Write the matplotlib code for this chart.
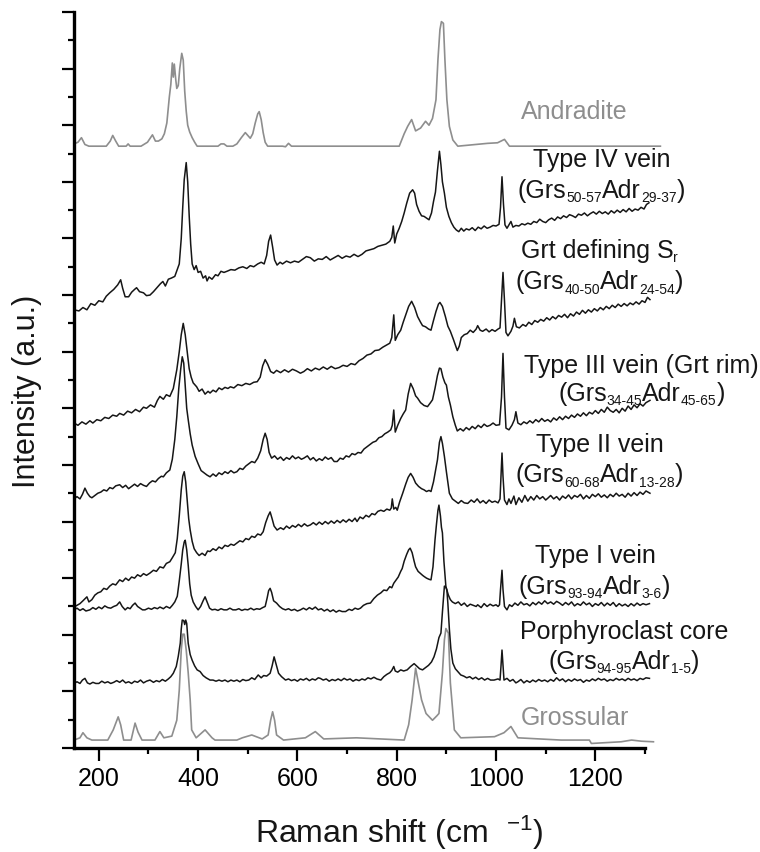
import numpy as np
import matplotlib
matplotlib.use('Agg')
import matplotlib.pyplot as plt
import matplotlib.transforms as mtransforms
from matplotlib.ticker import MultipleLocator

plt.rcParams['font.family'] = ['Liberation Sans', 'DejaVu Sans']
plt.rcParams['mathtext.fontset'] = 'custom'
plt.rcParams['mathtext.rm'] = 'Liberation Sans'
plt.rcParams['mathtext.default'] = 'regular'

# ---- spectra (x: Raman shift in cm-1, y: stacked intensity, a.u.) ----
andr_x = [150, 158, 165, 172, 180, 215, 223, 228, 234, 240, 255, 259, 263, 285, 298, 308, 314, 320, 327, 332,
          337, 342, 345, 348, 350, 352, 355, 357, 360, 363, 367, 370, 373, 376, 379, 383, 388, 393, 398,
          440, 446, 452, 458, 470, 478, 487, 495, 500, 505, 510, 515, 520, 523, 527, 531, 535, 540, 570, 576,
          582, 588, 805, 815, 822, 830, 838, 848, 858, 865, 872, 879, 883, 887, 890, 894, 897, 901, 906, 913,
          923, 983, 1003, 1017, 1027, 1331]
andr_y = [10.67, 10.70, 10.78, 10.66, 10.63, 10.63, 10.72, 10.82, 10.72, 10.63, 10.63, 10.67, 10.63, 10.63,
          10.70, 10.83, 10.72, 10.72, 10.76, 10.85, 11.04, 11.50, 11.72, 12.10, 11.85, 12.08, 11.80, 11.65,
          11.70, 12.00, 12.27, 12.15, 11.60, 11.25, 11.00, 10.88, 10.78, 10.70, 10.63,
          10.63, 10.67, 10.67, 10.63, 10.63, 10.67, 10.78, 10.87, 10.82, 10.77, 10.85, 11.04, 11.20, 11.24,
          11.10, 10.87, 10.70, 10.63, 10.63, 10.62, 10.68, 10.63, 10.63, 10.85, 10.98, 11.10, 10.90, 10.95,
          11.07, 11.00, 11.12, 11.45, 12.16, 12.69, 12.83, 12.80, 12.16, 11.45, 10.98, 10.74,
          10.63, 10.68, 10.69, 10.75, 10.63, 10.63]

t4_x = [150, 160, 168, 176, 184, 192, 200, 208, 215, 222, 230, 238, 244, 248, 253, 260, 266, 272, 276, 282,
        290, 296, 303, 310, 318, 324, 329, 334, 340, 346, 353, 358, 362, 366, 369, 372, 376, 379, 382, 385,
        388, 392, 396, 400, 405, 410, 415, 418, 422, 428, 435, 440, 446, 452, 458, 466, 474, 482, 490, 498,
        505, 512, 520, 527, 533, 538, 542, 546, 550, 554, 559, 565, 570, 578, 586, 594, 602, 610, 618, 626,
        634, 642, 650, 658, 666, 674, 682, 690, 698, 706, 714, 722, 730, 738, 746, 754, 762, 770, 778, 786,
        790, 793, 796, 800, 805, 810, 815, 820, 826, 832, 836, 840, 845, 850, 855, 860, 865, 870, 874, 878,
        882, 886, 889, 892, 896, 900, 905, 910, 915, 920, 925, 930, 935, 940, 946, 952, 958, 964, 970, 976,
        982, 988, 994, 1000, 1006, 1009, 1012, 1015, 1018, 1022, 1026, 1030, 1034, 1040, 1046, 1052, 1058,
        1064, 1070, 1076, 1082, 1088, 1094, 1100, 1106, 1112, 1118, 1124, 1130, 1136, 1142, 1148, 1154,
        1160, 1166, 1172, 1178, 1184, 1190, 1196, 1202, 1208, 1214, 1220, 1226, 1232, 1238, 1244, 1250,
        1256, 1262, 1268, 1274, 1280, 1286, 1292, 1298, 1303, 1308]
t4_y = [7.74, 7.72, 7.78, 7.74, 7.85, 7.82, 7.90, 7.88, 7.98, 8.04, 8.10, 8.18, 8.27, 8.12, 7.97, 7.97, 8.05,
        8.10, 8.13, 8.06, 8.04, 7.99, 8.00, 8.06, 8.14, 8.20, 8.24, 8.16, 8.28, 8.30, 8.33, 8.45, 8.55, 9.00,
        9.55, 10.04, 10.34, 10.00, 9.40, 8.90, 8.55, 8.45, 8.52, 8.40, 8.42, 8.30, 8.34, 8.25, 8.32, 8.28,
        8.36, 8.34, 8.42, 8.40, 8.42, 8.45, 8.44, 8.48, 8.50, 8.47, 8.52, 8.50, 8.55, 8.58, 8.55, 8.70, 8.95,
        9.06, 8.85, 8.62, 8.53, 8.58, 8.55, 8.60, 8.57, 8.60, 8.58, 8.63, 8.68, 8.66, 8.60, 8.64, 8.63, 8.68,
        8.62, 8.66, 8.70, 8.65, 8.69, 8.67, 8.72, 8.68, 8.72, 8.78, 8.80, 8.82, 8.86, 8.88, 8.90, 8.95,
        9.02, 9.22, 8.92, 9.08, 9.18, 9.30, 9.45, 9.62, 9.80, 9.86, 9.80, 9.60, 9.48, 9.40, 9.39, 9.36, 9.33,
        9.45, 9.65, 9.82, 10.20, 10.54, 10.30, 10.00, 9.80, 9.55, 9.39, 9.28, 9.20, 9.15, 9.12, 9.18, 9.13,
        9.17, 9.15, 9.19, 9.14, 9.20, 9.17, 9.22, 9.18, 9.20, 9.23, 9.22, 9.25, 9.55, 10.09, 9.60, 9.24,
        9.18, 9.24, 9.30, 9.20, 9.23, 9.22, 9.26, 9.24, 9.27, 9.25, 9.30, 9.28, 9.34, 9.30, 9.28, 9.33, 9.36,
        9.32, 9.38, 9.35, 9.40, 9.37, 9.42, 9.40, 9.37, 9.43, 9.41, 9.45, 9.40, 9.44, 9.47, 9.43, 9.48, 9.44,
        9.47, 9.43, 9.49, 9.45, 9.50, 9.46, 9.51, 9.47, 9.53, 9.48, 9.52, 9.50, 9.55, 9.52, 9.60, 9.63]

sr_x = [150, 158, 166, 174, 182, 188, 196, 204, 212, 220, 228, 236, 242, 250, 258, 266, 274, 282, 290, 296,
        304, 312, 318, 323, 330, 336, 343, 350, 357, 362, 366, 370, 374, 378, 382, 386, 390, 397, 402, 408,
        414, 420, 424, 430, 436, 442, 448, 454, 460, 465, 472, 480, 488, 496, 504, 512, 519, 525, 530, 535,
        540, 546, 552, 558, 566, 574, 582, 590, 598, 606, 613, 620, 628, 636, 644, 652, 660, 668, 676, 684,
        692, 700, 708, 716, 724, 732, 740, 748, 756, 764, 772, 780, 786, 790, 794, 797, 802, 808, 813, 818,
        824, 830, 836, 842, 848, 852, 858, 864, 869, 874, 879, 884, 887, 892, 898, 903, 908, 914, 918, 922,
        926, 930, 936, 942, 948, 954, 960, 963, 968, 973, 980, 986, 992, 998, 1004, 1008, 1011, 1014, 1017,
        1020, 1024, 1030, 1034, 1037, 1041, 1047, 1054, 1060, 1066, 1072, 1078, 1084, 1090, 1096, 1102,
        1108, 1114, 1120, 1126, 1132, 1138, 1144, 1150, 1156, 1162, 1168, 1174, 1180, 1186, 1192, 1198,
        1204, 1210, 1216, 1222, 1228, 1234, 1240, 1246, 1252, 1258, 1264, 1270, 1276, 1282, 1288, 1294,
        1300, 1305, 1310]
sr_y = [5.74, 5.70, 5.76, 5.72, 5.78, 5.74, 5.80, 5.78, 5.84, 5.82, 5.88, 5.86, 5.91, 5.88, 5.95, 5.92, 5.98,
        5.94, 6.02, 6.00, 6.06, 6.02, 6.14, 6.21, 6.16, 6.24, 6.21, 6.35, 6.68, 7.00, 7.30, 7.50, 7.30, 7.00,
        6.70, 6.55, 6.45, 6.38, 6.30, 6.34, 6.25, 6.30, 6.27, 6.32, 6.29, 6.36, 6.33, 6.37, 6.35, 6.38, 6.36,
        6.42, 6.40, 6.44, 6.42, 6.46, 6.47, 6.55, 6.75, 6.86, 6.78, 6.65, 6.62, 6.67, 6.63, 6.68, 6.64, 6.69,
        6.66, 6.62, 6.65, 6.70, 6.66, 6.71, 6.68, 6.73, 6.69, 6.74, 6.70, 6.72, 6.76, 6.74, 6.79, 6.77, 6.84,
        6.88, 6.94, 6.96, 7.02, 7.03, 7.08, 7.12, 7.15, 7.25, 7.65, 7.20, 7.30, 7.38, 7.52, 7.65, 7.80, 7.89,
        7.78, 7.62, 7.52, 7.46, 7.44, 7.40, 7.38, 7.55, 7.71, 7.84, 7.87, 7.80, 7.62, 7.45, 7.36, 7.22, 7.12,
        7.02, 7.10, 7.25, 7.30, 7.32, 7.38, 7.34, 7.40, 7.46, 7.38, 7.36, 7.40, 7.35, 7.39, 7.36, 7.40, 7.42,
        7.90, 8.40, 7.90, 7.34, 7.28, 7.36, 7.45, 7.59, 7.44, 7.42, 7.48, 7.45, 7.52, 7.48, 7.55, 7.52, 7.57,
        7.54, 7.60, 7.56, 7.62, 7.58, 7.64, 7.61, 7.66, 7.60, 7.67, 7.63, 7.70, 7.66, 7.73, 7.68, 7.74, 7.70,
        7.76, 7.72, 7.78, 7.74, 7.80, 7.76, 7.82, 7.78, 7.84, 7.80, 7.85, 7.81, 7.86, 7.83, 7.88, 7.84, 7.90,
        7.87, 7.96, 7.92]

t3_x = [150, 156, 162, 167, 172, 177, 182, 186, 192, 198, 204, 210, 216, 222, 228, 234, 242, 248, 254, 260,
        266, 272, 278, 284, 290, 296, 302, 308, 314, 320, 326, 330, 336, 343, 348, 353, 357, 361, 365, 368,
        371, 374, 377, 380, 384, 388, 394, 400, 406, 412, 418, 424, 430, 436, 442, 448, 454, 460, 466, 472,
        478, 484, 490, 496, 502, 508, 514, 520, 526, 531, 535, 539, 543, 548, 554, 560, 566, 572, 578, 584,
        590, 596, 602, 608, 613, 620, 626, 632, 638, 644, 650, 656, 662, 668, 674, 680, 686, 692, 698, 704,
        710, 716, 722, 728, 734, 740, 746, 752, 758, 764, 770, 776, 782, 788, 791, 794, 797, 802, 808, 813,
        818, 823, 828, 833, 838, 842, 848, 855, 862, 868, 872, 877, 882, 886, 889, 893, 897, 900, 904, 908,
        913, 918, 922, 928, 934, 940, 946, 952, 958, 964, 970, 976, 982, 988, 994, 1000, 1007, 1011, 1014,
        1017, 1020, 1026, 1032, 1037, 1040, 1044, 1050, 1056, 1062, 1068, 1074, 1080, 1086, 1092, 1098,
        1104, 1110, 1116, 1122, 1128, 1134, 1140, 1146, 1152, 1158, 1164, 1170, 1176, 1182, 1188, 1194,
        1200, 1206, 1212, 1218, 1224, 1230, 1236, 1242, 1248, 1254, 1260, 1266, 1272, 1278, 1284, 1290,
        1296, 1302, 1310]
t3_y = [4.40, 4.44, 4.40, 4.48, 4.59, 4.50, 4.44, 4.42, 4.46, 4.50, 4.52, 4.56, 4.54, 4.60, 4.58, 4.63, 4.65,
        4.60, 4.64, 4.58, 4.62, 4.66, 4.62, 4.67, 4.64, 4.62, 4.68, 4.72, 4.70, 4.76, 4.80, 4.79, 4.86, 4.91,
        5.10, 5.45, 5.85, 6.35, 6.70, 6.91, 6.80, 6.40, 6.00, 5.80, 5.55, 5.35, 5.15, 5.02, 4.90, 4.86, 4.82,
        4.79, 4.84, 4.80, 4.86, 4.83, 4.88, 4.85, 4.90, 4.86, 4.88, 4.94, 4.92, 4.98, 5.02, 5.06, 5.04, 5.12,
        5.25, 5.45, 5.56, 5.45, 5.22, 5.12, 5.16, 5.10, 5.14, 5.08, 5.13, 5.10, 5.16, 5.11, 5.14, 5.10, 5.12,
        5.16, 5.09, 5.13, 5.07, 5.11, 5.08, 5.14, 5.10, 5.13, 5.06, 5.06, 5.12, 5.10, 5.16, 5.14, 5.20, 5.18,
        5.22, 5.21, 5.28, 5.32, 5.36, 5.40, 5.42, 5.48, 5.50, 5.55, 5.58, 5.62, 5.70, 5.97, 5.58, 5.70, 5.82,
        5.90, 5.97, 6.25, 6.44, 6.35, 6.22, 6.18, 6.10, 6.05, 6.03, 6.10, 6.15, 6.35, 6.58, 6.71, 6.70, 6.55,
        6.45, 6.41, 6.20, 6.06, 5.85, 5.70, 5.60, 5.64, 5.60, 5.66, 5.62, 5.68, 5.64, 5.70, 5.66, 5.72, 5.68,
        5.70, 5.74, 5.70, 5.71, 6.20, 6.97, 6.20, 5.65, 5.62, 5.70, 5.80, 5.94, 5.74, 5.71, 5.76, 5.73, 5.78,
        5.74, 5.80, 5.76, 5.82, 5.77, 5.80, 5.76, 5.83, 5.79, 5.85, 5.80, 5.86, 5.82, 5.88, 5.84, 5.90, 5.86,
        5.92, 5.87, 5.93, 5.90, 5.96, 5.91, 5.98, 5.93, 6.02, 5.96, 5.93, 5.98, 5.92, 6.00, 5.95, 6.04, 5.98,
        6.06, 6.01, 6.08, 6.04, 6.10, 6.14]

t2_x = [150, 156, 162, 168, 176, 180, 186, 192, 198, 204, 210, 216, 222, 228, 234, 242, 248, 254, 260, 266,
        272, 278, 284, 290, 296, 303, 310, 316, 323, 330, 336, 343, 348, 354, 358, 362, 366, 369, 372, 375,
        378, 381, 384, 388, 392, 397, 402, 408, 414, 419, 424, 430, 436, 442, 448, 454, 460, 466, 472, 478,
        484, 490, 496, 502, 508, 514, 520, 526, 531, 536, 541, 545, 549, 553, 559, 566, 572, 578, 584, 590,
        596, 602, 608, 614, 620, 626, 632, 638, 644, 650, 656, 662, 668, 674, 680, 686, 692, 698, 704, 710,
        716, 720, 726, 732, 738, 744, 750, 756, 762, 768, 774, 780, 786, 789, 791, 794, 798, 801, 806, 812,
        818, 823, 828, 833, 838, 844, 850, 855, 860, 865, 869, 874, 878, 882, 886, 889, 892, 896, 900, 906,
        912, 918, 924, 930, 936, 943, 950, 956, 962, 968, 974, 980, 986, 992, 998, 1004, 1008, 1010, 1012,
        1014, 1017, 1022, 1026, 1030, 1036, 1040, 1046, 1052, 1058, 1064, 1070, 1076, 1082, 1088, 1094,
        1100, 1104, 1110, 1116, 1122, 1128, 1134, 1140, 1146, 1152, 1158, 1164, 1170, 1176, 1182, 1188,
        1194, 1200, 1206, 1212, 1218, 1224, 1230, 1236, 1242, 1248, 1254, 1260, 1266, 1272, 1278, 1284,
        1290, 1296, 1302, 1310]
t2_y = [2.49, 2.52, 2.55, 2.60, 2.67, 2.58, 2.62, 2.70, 2.74, 2.76, 2.82, 2.80, 2.86, 2.90, 2.88, 2.97, 2.94,
        3.00, 2.96, 3.02, 3.00, 3.06, 3.03, 3.08, 3.05, 3.09, 3.14, 3.12, 3.20, 3.18, 3.26, 3.29, 3.36, 3.45,
        3.70, 4.10, 4.56, 4.80, 4.88, 4.70, 4.38, 4.05, 3.85, 3.65, 3.52, 3.45, 3.40, 3.44, 3.40, 3.48, 3.47,
        3.52, 3.49, 3.55, 3.52, 3.58, 3.56, 3.60, 3.58, 3.62, 3.66, 3.64, 3.70, 3.68, 3.74, 3.72, 3.78, 3.76,
        3.82, 3.98, 4.10, 4.17, 4.05, 3.92, 3.85, 3.89, 3.86, 3.92, 3.88, 3.93, 3.90, 3.95, 3.91, 3.96, 3.92,
        3.94, 3.98, 3.94, 3.99, 3.95, 4.00, 3.96, 4.01, 3.97, 4.02, 3.98, 4.03, 3.99, 4.04, 4.00, 4.06, 4.00,
        4.08, 4.05, 4.11, 4.08, 4.14, 4.12, 4.18, 4.20, 4.18, 4.22, 4.20, 4.24, 4.40, 4.22, 4.25, 4.20, 4.35,
        4.50, 4.66, 4.78, 4.85, 4.78, 4.68, 4.62, 4.58, 4.56, 4.53, 4.55, 4.53, 4.70, 4.90, 5.09, 5.40, 5.50,
        5.38, 5.15, 4.88, 4.50, 4.40, 4.36, 4.32, 4.37, 4.33, 4.32, 4.38, 4.34, 4.40, 4.33, 4.37, 4.32, 4.38,
        4.34, 4.36, 4.33, 4.40, 4.80, 5.21, 4.80, 4.38, 4.30, 4.40, 4.32, 4.45, 4.30, 4.42, 4.34, 4.46, 4.36,
        4.44, 4.38, 4.46, 4.40, 4.44, 4.38, 4.41, 4.46, 4.40, 4.44, 4.38, 4.45, 4.41, 4.47, 4.40, 4.46, 4.43,
        4.48, 4.40, 4.46, 4.41, 4.48, 4.44, 4.49, 4.43, 4.47, 4.42, 4.48, 4.44, 4.50, 4.45, 4.48, 4.43, 4.50,
        4.45, 4.51, 4.46, 4.52, 4.48, 4.54, 4.50]

t1_x = [150, 156, 162, 168, 174, 182, 188, 194, 200, 206, 212, 218, 224, 230, 236, 242, 247, 253, 258, 263,
        268, 273, 278, 283, 288, 293, 300, 306, 312, 318, 323, 330, 336, 343, 348, 353, 358, 362, 366, 369,
        372, 374, 377, 380, 383, 386, 390, 395, 400, 405, 410, 414, 418, 423, 428, 434, 440, 446, 452, 458,
        464, 470, 476, 482, 488, 494, 500, 506, 512, 518, 524, 530, 535, 539, 542, 545, 548, 552, 558, 564,
        570, 576, 582, 588, 594, 600, 606, 612, 618, 624, 630, 636, 642, 648, 654, 660, 666, 672, 678, 684,
        690, 697, 704, 710, 716, 722, 727, 733, 740, 747, 754, 761, 768, 774, 780, 786, 790, 794, 798, 803,
        808, 811, 815, 820, 824, 827, 831, 835, 838, 843, 848, 852, 855, 860, 865, 869, 873, 877, 880, 883,
        885, 888, 890, 892, 895, 899, 904, 908, 912, 918, 924, 930, 936, 942, 948, 954, 960, 963, 970, 976,
        982, 988, 994, 1000, 1004, 1007, 1009, 1012, 1014, 1017, 1022, 1027, 1032, 1038, 1044, 1050, 1056,
        1062, 1068, 1074, 1080, 1086, 1092, 1098, 1104, 1110, 1116, 1122, 1128, 1134, 1140, 1146, 1152,
        1158, 1164, 1170, 1176, 1182, 1188, 1194, 1200, 1206, 1212, 1218, 1224, 1230, 1236, 1242, 1248,
        1254, 1260, 1266, 1272, 1278, 1284, 1290, 1296, 1302, 1309]
t1_y = [2.44, 2.47, 2.43, 2.46, 2.42, 2.44, 2.48, 2.45, 2.49, 2.46, 2.51, 2.48, 2.47, 2.50, 2.52, 2.58, 2.50,
        2.44, 2.48, 2.46, 2.52, 2.56, 2.50, 2.47, 2.44, 2.44, 2.47, 2.45, 2.48, 2.46, 2.49, 2.46, 2.50, 2.47,
        2.52, 2.58, 2.68, 2.95, 3.25, 3.50, 3.64, 3.67, 3.50, 3.23, 2.90, 2.70, 2.58, 2.50, 2.44, 2.50, 2.60,
        2.67, 2.58, 2.47, 2.44, 2.45, 2.43, 2.46, 2.44, 2.44, 2.47, 2.44, 2.44, 2.46, 2.43, 2.45, 2.44, 2.47,
        2.44, 2.46, 2.45, 2.48, 2.50, 2.65, 2.78, 2.82, 2.75, 2.60, 2.56, 2.50, 2.46, 2.44, 2.46, 2.43, 2.45,
        2.42, 2.44, 2.47, 2.44, 2.48, 2.45, 2.49, 2.44, 2.46, 2.42, 2.45, 2.41, 2.44, 2.40, 2.43, 2.41, 2.41,
        2.45, 2.43, 2.47, 2.45, 2.47, 2.52, 2.55, 2.56, 2.64, 2.70, 2.74, 2.79, 2.78, 2.85, 2.83, 2.91, 2.96,
        3.02, 3.12, 3.17, 3.30, 3.42, 3.50, 3.53, 3.45, 3.30, 3.20, 3.12, 3.08, 3.05, 3.03, 3.00, 2.98, 2.97,
        3.20, 3.67, 3.95, 4.20, 4.29, 4.10, 3.90, 3.80, 3.30, 2.85, 2.70, 2.62, 2.58, 2.55, 2.58, 2.52, 2.56,
        2.50, 2.54, 2.52, 2.50, 2.53, 2.48, 2.55, 2.50, 2.54, 2.51, 2.53, 2.50, 2.53, 2.80, 3.14, 2.80, 2.50,
        2.44, 2.53, 2.50, 2.56, 2.52, 2.58, 2.53, 2.55, 2.51, 2.57, 2.53, 2.58, 2.54, 2.60, 2.55, 2.58, 2.54,
        2.59, 2.56, 2.52, 2.57, 2.53, 2.58, 2.51, 2.55, 2.52, 2.58, 2.53, 2.56, 2.50, 2.55, 2.52, 2.57, 2.51,
        2.56, 2.52, 2.57, 2.50, 2.55, 2.51, 2.54, 2.50, 2.55, 2.51, 2.56, 2.52, 2.55, 2.53, 2.55]

core_x = [150, 156, 162, 167, 172, 177, 182, 188, 194, 200, 206, 212, 218, 224, 230, 236, 242, 248, 254, 260,
          266, 272, 278, 284, 290, 296, 303, 310, 316, 322, 328, 334, 340, 345, 350, 356, 360, 364, 366, 368,
          371, 373, 375, 377, 380, 384, 388, 393, 398, 404, 410, 416, 424, 430, 436, 442, 448, 454, 460, 466,
          472, 478, 484, 490, 496, 502, 508, 514, 521, 527, 532, 538, 545, 549, 553, 557, 562, 568, 576, 582,
          588, 594, 600, 606, 612, 618, 624, 630, 636, 642, 646, 652, 658, 664, 670, 676, 682, 688, 694, 700,
          706, 712, 718, 724, 730, 736, 742, 748, 754, 760, 768, 774, 780, 786, 790, 794, 797, 802, 808, 814,
          821, 828, 835, 840, 846, 852, 858, 864, 870, 875, 880, 885, 889, 892, 896, 899, 901, 903, 906, 909,
          913, 918, 923, 929, 935, 941, 947, 953, 959, 965, 971, 977, 983, 989, 996, 1004, 1008, 1010, 1012,
          1014, 1016, 1022, 1028, 1034, 1040, 1044, 1050, 1056, 1062, 1068, 1074, 1080, 1086, 1092, 1098,
          1104, 1110, 1116, 1122, 1128, 1134, 1140, 1146, 1152, 1158, 1164, 1170, 1176, 1182, 1188, 1194,
          1200, 1206, 1212, 1218, 1224, 1230, 1236, 1242, 1248, 1254, 1260, 1266, 1272, 1278, 1284, 1290,
          1296, 1302, 1309]
core_y = [1.14, 1.17, 1.14, 1.20, 1.23, 1.15, 1.13, 1.16, 1.14, 1.14, 1.18, 1.15, 1.17, 1.14, 1.16, 1.19,
          1.16, 1.20, 1.15, 1.17, 1.14, 1.18, 1.16, 1.20, 1.15, 1.18, 1.20, 1.16, 1.19, 1.17, 1.21, 1.18, 1.22,
          1.26, 1.32, 1.44, 1.62, 1.85, 2.10, 2.26, 2.25, 2.18, 2.26, 2.20, 1.85, 1.65, 1.55, 1.45, 1.38, 1.35,
          1.28, 1.24, 1.20, 1.20, 1.18, 1.20, 1.18, 1.20, 1.17, 1.20, 1.18, 1.20, 1.17, 1.21, 1.19, 1.20, 1.24,
          1.21, 1.29, 1.24, 1.28, 1.27, 1.32, 1.45, 1.61, 1.48, 1.32, 1.26, 1.20, 1.22, 1.19, 1.21, 1.18, 1.22,
          1.20, 1.23, 1.19, 1.22, 1.20, 1.24, 1.23, 1.20, 1.22, 1.18, 1.21, 1.19, 1.22, 1.19, 1.23, 1.20, 1.22,
          1.18, 1.21, 1.19, 1.22, 1.20, 1.24, 1.22, 1.25, 1.22, 1.20, 1.26, 1.30, 1.33, 1.37, 1.44, 1.36, 1.34,
          1.38, 1.36, 1.38, 1.44, 1.49, 1.45, 1.40, 1.38, 1.42, 1.46, 1.52, 1.61, 1.75, 1.95, 2.03, 2.40, 2.86,
          2.84, 2.79, 2.55, 2.10, 1.75, 1.50, 1.40, 1.35, 1.29, 1.27, 1.24, 1.26, 1.22, 1.25, 1.21, 1.24, 1.20,
          1.23, 1.20, 1.20, 1.22, 1.20, 1.45, 1.73, 1.45, 1.20, 1.23, 1.18, 1.21, 1.15, 1.17, 1.21, 1.15, 1.19,
          1.16, 1.20, 1.17, 1.21, 1.18, 1.20, 1.17, 1.21, 1.18, 1.24, 1.19, 1.22, 1.17, 1.21, 1.18, 1.22, 1.19,
          1.21, 1.16, 1.20, 1.18, 1.22, 1.19, 1.23, 1.20, 1.22, 1.18, 1.21, 1.19, 1.23, 1.20, 1.22, 1.19, 1.23,
          1.20, 1.22, 1.19, 1.23, 1.21, 1.24, 1.23]

gros_x = [150, 162, 168, 176, 186, 218, 229, 239, 244, 250, 265, 273, 279, 287, 313, 323, 331, 347, 357, 362,
          366, 369, 372, 376, 380, 384, 387, 396, 414, 428, 434, 478, 489, 508, 529, 541, 546, 550, 554, 558,
          572, 616, 636, 653, 719, 815, 824, 831, 838, 845, 850, 859, 872, 881, 885, 892, 896, 899, 904, 908,
          916, 929, 997, 1016, 1030, 1044, 1131, 1188, 1192, 1252, 1273, 1293, 1317]
gros_y = [0.14, 0.18, 0.27, 0.18, 0.14, 0.14, 0.32, 0.55, 0.41, 0.14, 0.14, 0.44, 0.28, 0.14, 0.14, 0.29,
          0.18, 0.21, 0.49, 1.02, 1.73, 2.01, 2.01, 1.73, 1.33, 0.85, 0.32, 0.18, 0.32, 0.18, 0.14, 0.14, 0.18,
          0.23, 0.16, 0.23, 0.49, 0.64, 0.49, 0.23, 0.14, 0.18, 0.29, 0.16, 0.18, 0.14, 0.41, 0.85, 1.41, 1.08,
          0.85, 0.61, 0.49, 0.57, 0.61, 1.33, 1.91, 2.11, 2.03, 1.15, 0.32, 0.18, 0.20, 0.27, 0.38, 0.18, 0.14,
          0.14, 0.08, 0.11, 0.14, 0.12, 0.11]

black_specs = [(t4_x, t4_y), (sr_x, sr_y), (t3_x, t3_y), (t2_x, t2_y), (t1_x, t1_y), (core_x, core_y)]
gray_specs = [(andr_x, andr_y), (gros_x, gros_y)]

# labels: pieces of (text, is_subscript), centre x, baseline y
labels = [
    ([('Type IV vein', 0)], 1212, 10.27),
    ([('(Grs', 0), ('50-57', 1), ('Adr', 0), ('29-37', 1), (')', 0)], 1212, 9.71),
    ([('Grt defining S', 0), ('r', 1)], 1208, 8.65),
    ([('(Grs', 0), ('40-50', 1), ('Adr', 0), ('24-54', 1), (')', 0)], 1208, 8.10),
    ([('Type III vein (Grt rim)', 0)], 1293, 6.62),
    ([('(Grs', 0), ('34-45', 1), ('Adr', 0), ('45-65', 1), (')', 0)], 1293, 6.13),
    ([('Type II vein', 0)], 1210, 5.23),
    ([('(Grs', 0), ('60-68', 1), ('Adr', 0), ('13-28', 1), (')', 0)], 1208, 4.69),
    ([('Type I vein', 0)], 1200, 3.26),
    ([('(Grs', 0), ('93-94', 1), ('Adr', 0), ('3-6', 1), (')', 0)], 1198, 2.72),
    ([('Porphyroclast core', 0)], 1259, 1.93),
    ([('(Grs', 0), ('94-95', 1), ('Adr', 0), ('1-5', 1), (')', 0)], 1257, 1.40),
]
gray_labels = [('Andradite', 1050, 11.11), ('Grossular', 1050, 0.41)]

xticks = [200, 400, 600, 800, 1000, 1200]

BLACK = '#161616'
GRAY = '#8e8e8e'

fig = plt.figure(figsize=(7.6, 8.52), dpi=100)
ax = fig.add_axes([74 / 760, 104 / 852, 571 / 760, 736 / 852])

for xs, ys in gray_specs:
    ax.plot(xs, ys, color=GRAY, lw=1.2, clip_on=False)
for xs, ys in black_specs:
    ax.plot(xs, ys, color=BLACK, lw=1.1, clip_on=False)


def rich_label(pieces, x, y, size=18, sub_size=10, sub_drop=3.0):
    # lay out normal + subscript pieces side by side, centred on x
    renderer = fig.canvas.get_renderer()
    widths = []
    for s, sub in pieces:
        t = ax.text(0, 0, s, fontsize=sub_size if sub else size)
        widths.append(t.get_window_extent(renderer).width * 72 / fig.dpi)
        t.remove()
    off = -sum(widths) / 2
    for (s, sub), w in zip(pieces, widths):
        tr = mtransforms.offset_copy(ax.transData, fig=fig, x=off,
                                     y=-sub_drop if sub else 0, units='points')
        ax.text(x, y, s, transform=tr, fontsize=sub_size if sub else size, color=BLACK,
                ha='left', va='baseline', clip_on=False)
        off += w


for pieces, x, y in labels:
    rich_label(pieces, x, y)
for txt, x, y in gray_labels:
    ax.text(x, y, txt, fontsize=18, color=GRAY, ha='left', va='baseline', clip_on=False)

ax.set_xlim(150, 1300)
ax.set_ylim(0, 13)
ax.set_xticks(xticks)
ax.xaxis.set_minor_locator(MultipleLocator(100))
ax.set_yticks(np.arange(0, 14, 1))
ax.yaxis.set_minor_locator(MultipleLocator(0.5))
ax.tick_params(axis='both', which='major', direction='out', length=9, width=1.6, labelsize=18, pad=5)
ax.tick_params(axis='both', which='minor', direction='out', length=4.5, width=1.6)
ax.tick_params(axis='y', labelleft=False)

for side in ['top', 'right']:
    ax.spines[side].set_visible(False)
for side in ['left', 'bottom']:
    ax.spines[side].set_linewidth(2.4)

fig.text(27.5 / 760, 1 - 391.5 / 852, 'Intensity (a.u.)', fontsize=22, rotation=90,
         ha='center', va='center', color=BLACK)
fig.text(399 / 760, 1 - 843 / 852, 'Raman shift (cm  $^{-1}$)', fontsize=23,
         ha='center', va='baseline', color=BLACK)

fig.savefig('out.png', dpi=100)
